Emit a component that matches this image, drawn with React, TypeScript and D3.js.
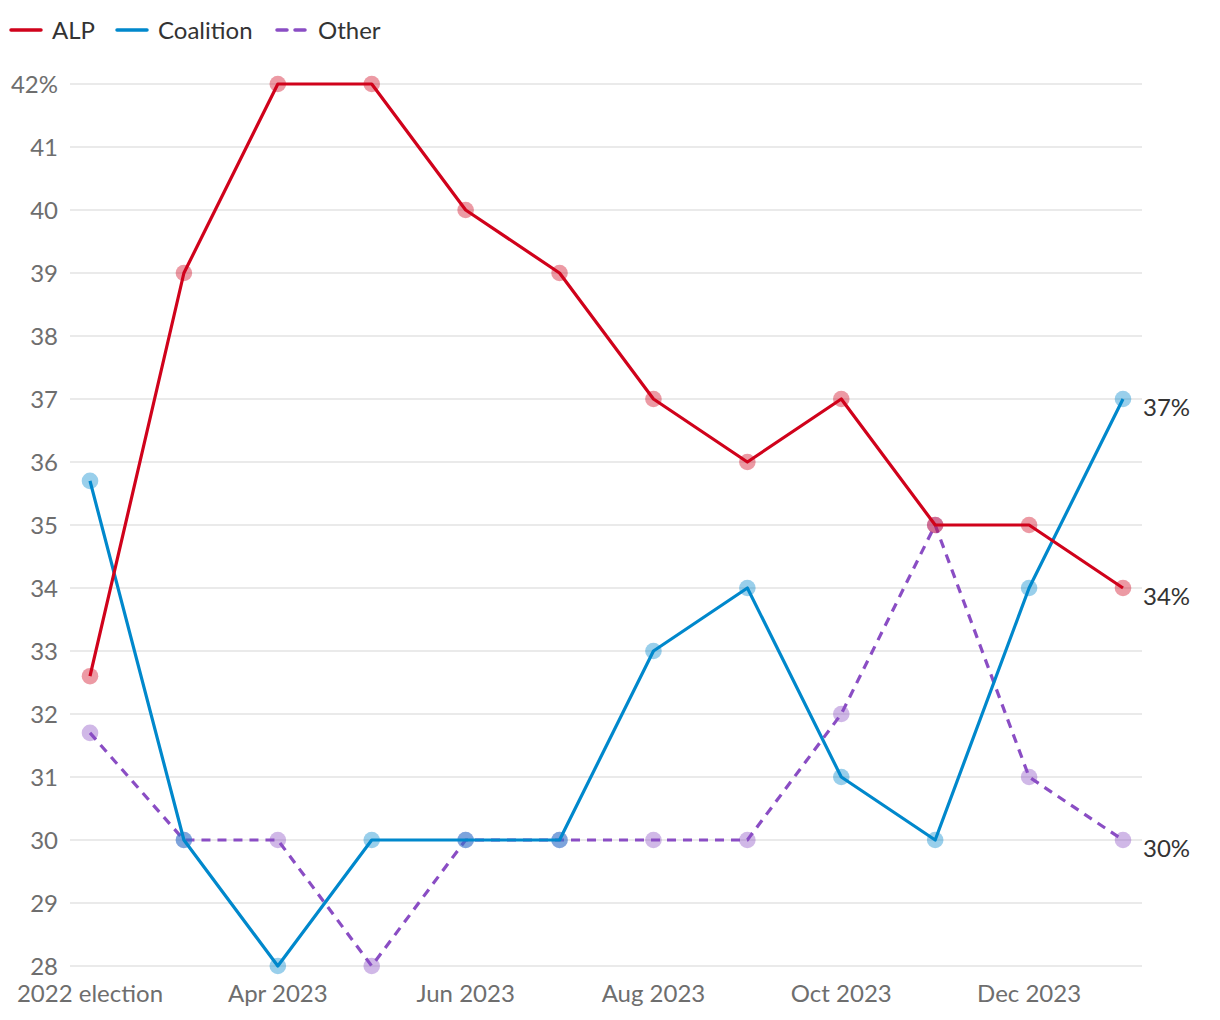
import React from "react";
import * as d3 from "d3";

const periods = ["2022 election", "Mar 2023", "Apr 2023", "May 2023", "Jun 2023", "Jul 2023", "Aug 2023", "Sep 2023", "Oct 2023", "Nov 2023", "Dec 2023", "Jan 2024"];
const tickLabels = ["2022 election", "Apr 2023", "Jun 2023", "Aug 2023", "Oct 2023", "Dec 2023"];
const alp = [32.6, 39, 42, 42, 40, 39, 37, 36, 37, 35, 35, 34];
const coalition = [35.7, 30, 28, 30, 30, 30, 33, 34, 31, 30, 34, 37];
const other = [31.7, 30, 30, 28, 30, 30, 30, 30, 32, 35, 31, 30];
const yTicks = [28, 29, 30, 31, 32, 33, 34, 35, 36, 37, 38, 39, 40, 41, 42];

const series = [
  { name: "ALP", values: alp, color: "#d0021b", dash: "" },
  { name: "Coalition", values: coalition, color: "#0088cc", dash: "" },
  { name: "Other", values: other, color: "#8a4dc4", dash: "9,7" },
];

const FONT = "Lato, 'Noto Sans', sans-serif";

export default function App() {
  const W = 1220, H = 1020;
  const x = d3.scalePoint<string>().domain(periods).range([90, 1123]);
  const y = d3.scaleLinear().domain([28, 42]).range([966, 84]);
  const line = d3.line<number>().x((_, i) => x(periods[i])!).y((d) => y(d));
  const order = [...series].reverse();
  const legendPos = [11, 117, 277];
  return (
    <svg width={W} height={H} style={{ position: "absolute", left: 0, top: 0, background: "#fff" }} fontFamily={FONT}>
      {yTicks.map((t) => (
        <g key={t}>
          <line x1={70} x2={1142} y1={y(t)} y2={y(t)} stroke="#e3e3e3" strokeWidth={1.5} />
          <text x={58} y={y(t)} dy="0.36em" textAnchor="end" fontSize={24} fill="#6e6e6e">
            {t === 42 ? "42%" : t}
          </text>
        </g>
      ))}
      {tickLabels.map((l) => (
        <text key={l} x={x(l)!} y={1002} textAnchor="middle" fontSize={24} fill="#6e6e6e">
          {l}
        </text>
      ))}
      {order.map((s) => (
        <g key={s.name}>
          {s.values.map((v, i) => (
            <circle key={i} cx={x(periods[i])!} cy={y(v)} r={8.3} fill={s.color} opacity={0.4} />
          ))}
          <path d={line(s.values)!} fill="none" stroke={s.color} strokeWidth={3.2} strokeDasharray={s.dash} strokeLinejoin="round" />
        </g>
      ))}
      {series.map((s) => (
        <text key={s.name} x={1143} y={y(s.values[s.values.length - 1])} dy="0.72em" fontSize={24} fill="#333">
          {s.values[s.values.length - 1]}%
        </text>
      ))}
      {series.map((s, i) => (
        <g key={s.name} transform={`translate(${legendPos[i]},30)`}>
          <line x1={0} x2={30} y1={0} y2={0} stroke={s.color} strokeWidth={3.5} strokeDasharray={s.dash ? "10,8" : ""} strokeLinecap="round" />
          <text x={41} y={0} dy="0.36em" fontSize={24} fill="#333">{s.name}</text>
        </g>
      ))}
    </svg>
  );
}
